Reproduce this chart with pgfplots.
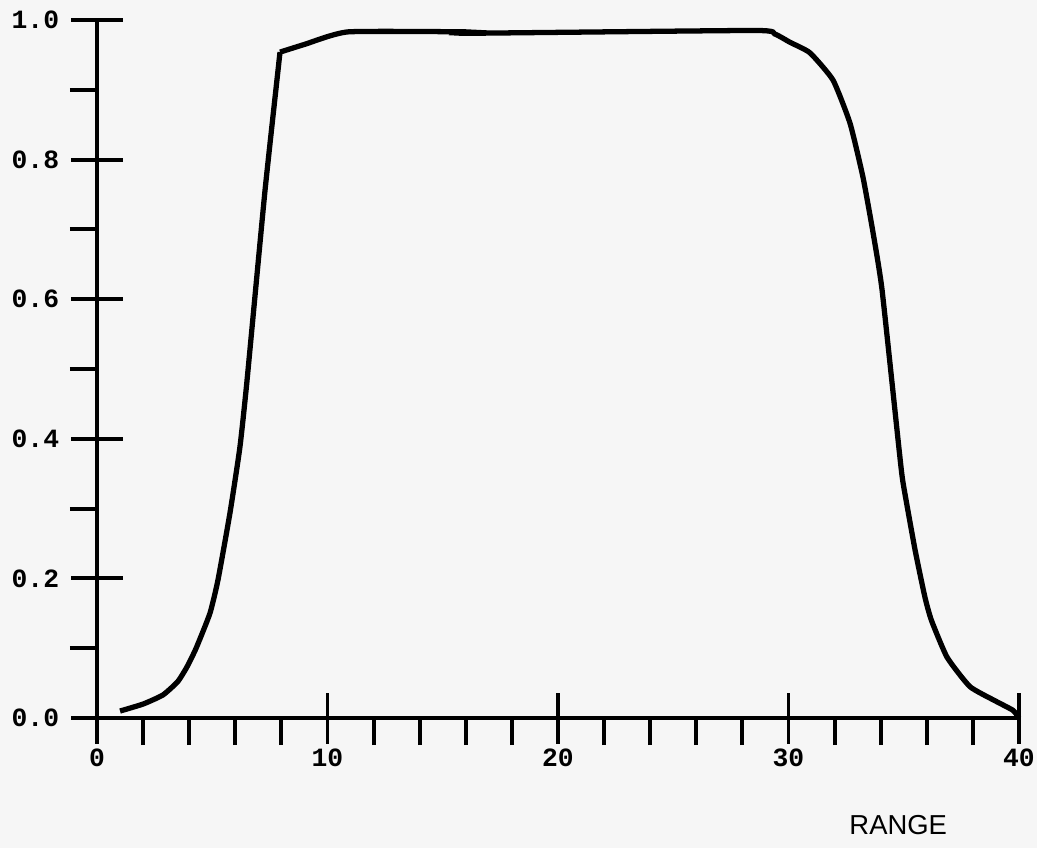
\documentclass[border=0pt]{standalone}
\usepackage{fontspec}
\setmainfont{Liberation Sans}
\newfontfamily\tickfont{Liberation Mono}
\usepackage{pgfplots}
\pgfplotsset{compat=1.18}
\definecolor{paper}{RGB}{246,246,246}

\begin{document}
\begin{tikzpicture}
% page frame: 1 px of the reference = 0.1 mm
\path[use as bounding box, fill=paper] (-9.7mm,-13mm) rectangle (94mm,71.8mm);
\begin{axis}[
    scale only axis,
    width=92.2mm, height=69.8mm,
    xmin=0, xmax=40, ymin=0, ymax=1.0,
    axis x line=bottom, axis y line=left,
    axis line style={-, line width=1.1pt},
    xtick={0,10,20,30,40},
    ytick={0,0.2,0.4,0.6,0.8,1.0},
    minor x tick num=4,
    minor y tick num=1,
    tick align=center,
    major tick length=5.1mm,
    minor tick length=2.7mm,
    every tick/.style={black, line width=1.1pt},
    every minor x tick/.append style={yshift=-1.35mm},
    every minor y tick/.append style={xshift=-1.35mm},
    /pgf/number format/assume math mode=true,
    yticklabel style={xshift=0mm},
    xticklabel style={yshift=0.7mm},
    ticklabel style={font=\tickfont\bfseries\fontsize{7.5}{9}\selectfont},
    yticklabel={\pgfmathprintnumber[fixed,fixed zerofill,precision=1]{\tick}},
    xticklabel={\pgfmathprintnumber[fixed,precision=0]{\tick}},
    xlabel={RANGE},
    xlabel style={at={(axis description cs:0.869,-0.153)}, anchor=center,
        font=\fontsize{7.8}{9}\selectfont},
    clip=false,
]
% rising flank, up to the knee
\addplot[black, line width=1.5pt, smooth, tension=0.3] coordinates {
    (1.0,0.010) (2.0,0.020) (2.86,0.033) (3.5,0.052) (3.9,0.073)
    (4.3,0.100) (4.9,0.150) (5.25,0.198) (5.77,0.294) (6.2,0.388)
    (6.51,0.484) (7.29,0.756) (7.94,0.954)
};
% top and falling flank
\addplot[black, line width=1.5pt, smooth, tension=0.3] coordinates {
    (7.94,0.954) (9.0,0.965) (10.9,0.983)
    (16.0,0.983) (16.1,0.981) (28.5,0.985) (29.4,0.980) (30.07,0.968) (30.93,0.953)
    (31.93,0.914) (32.67,0.852) (33.23,0.775) (33.67,0.695) (34.06,0.613)
    (34.8,0.384) (34.97,0.337) (35.49,0.241) (35.92,0.173) (36.2,0.140)
    (36.88,0.087) (37.87,0.045) (39.0,0.024) (39.74,0.011) (40.0,0.0)
};
\end{axis}
\end{tikzpicture}
\end{document}
